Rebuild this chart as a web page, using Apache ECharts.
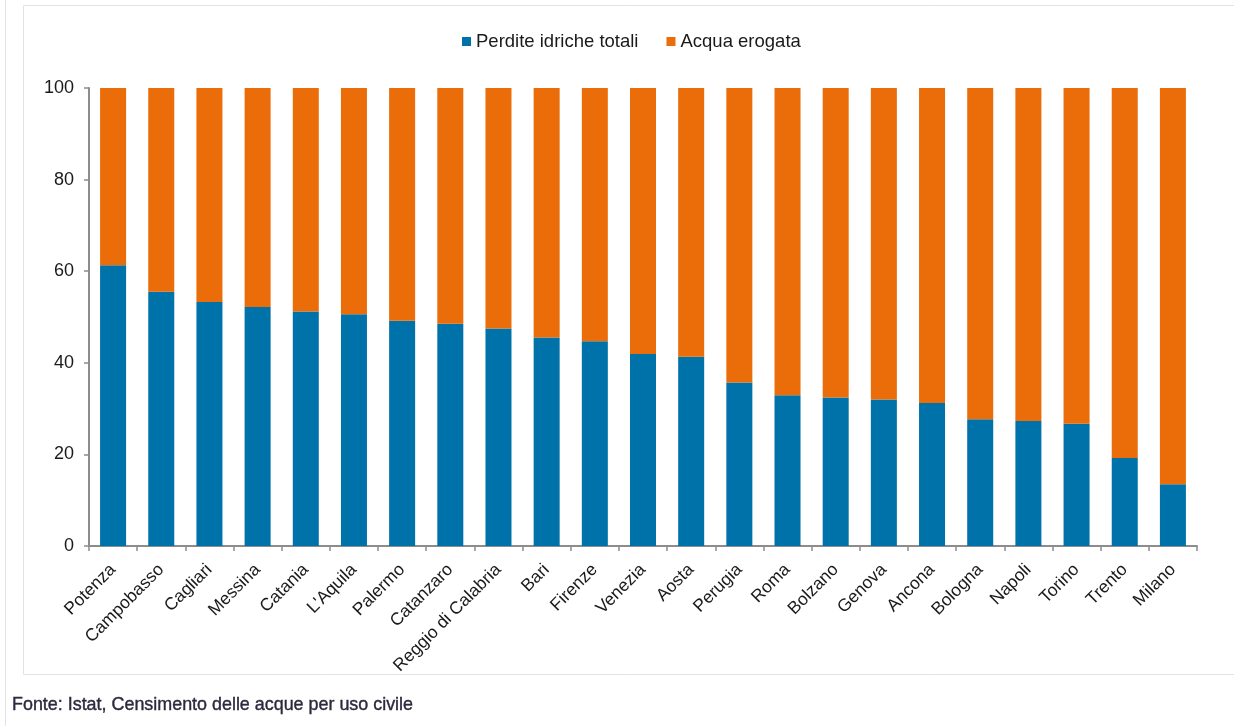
<!DOCTYPE html>
<html><head><meta charset="utf-8">
<script src="https://cdn.jsdelivr.net/npm/echarts@6/dist/echarts.min.js"></script>
<style>html,body{margin:0;padding:0;background:#fff}#c{width:1234px;height:726px}</style>
</head><body><div id="c"></div>
<script>
const categories = ["Potenza","Campobasso","Cagliari","Messina","Catania","L'Aquila","Palermo","Catanzaro","Reggio di Calabria","Bari","Firenze","Venezia","Aosta","Perugia","Roma","Bolzano","Genova","Ancona","Bologna","Napoli","Torino","Trento","Milano"];
const perdite = [61.3,55.5,53.3,52.2,51.2,50.6,49.2,48.5,47.5,45.5,44.7,41.9,41.3,35.7,32.9,32.4,32.0,31.2,27.7,27.3,26.7,19.2,13.5];
const erogata = perdite.map(v => +(100 - v).toFixed(1));
const seriesNames = ["Perdite idriche totali","Acqua erogata"];
const sourceText = "Fonte: Istat, Censimento delle acque per uso civile";

const FF = '"Liberation Sans", Arial, Helvetica, sans-serif';
// fit the condensed source note to its width in the reference
const mc = document.createElement('canvas').getContext('2d');
mc.font = '19px ' + FF;
const srcScale = 401 / mc.measureText(sourceText).width;

const chart = echarts.init(document.getElementById('c'), null, {renderer:'canvas'});
chart.setOption({
  animation:false,
  backgroundColor:'#fff',
  textStyle:{fontFamily:FF},
  legend:{
    top:27, left:457, itemWidth:9, itemHeight:9, itemGap:28,
    icon:'rect',
    textStyle:{fontSize:18.5, color:'#1a1a1a', fontFamily:FF},
    data:seriesNames
  },
  grid:{left:89, right:37, top:88, bottom:180, containLabel:false},
  xAxis:{
    type:'category', data:categories,
    axisLine:{lineStyle:{color:'#8c8c8c', width:2}},
    axisTick:{show:true, length:5, lineStyle:{color:'#8c8c8c', width:1.5}},
    axisLabel:{rotate:45, fontSize:17.5, color:'#1a1a1a', margin:21, interval:0, fontFamily:FF}
  },
  yAxis:{
    type:'value', min:0, max:100, interval:20,
    axisLine:{show:true, lineStyle:{color:'#8c8c8c', width:2}},
    axisTick:{show:true, inside:false, length:5, lineStyle:{color:'#8c8c8c', width:1.5}},
    splitLine:{show:false},
    axisLabel:{fontSize:18, color:'#1a1a1a', margin:15, fontFamily:FF}
  },
  series:[
    {name:seriesNames[0], type:'bar', stack:'t', data:perdite, barWidth:'54%',
     itemStyle:{color:'#0072AA'}},
    {name:seriesNames[1], type:'bar', stack:'t', data:erogata, barWidth:'54%',
     itemStyle:{color:'#EA6D0A'}}
  ],
  graphic:[
    {type:'line', shape:{x1:5.5,y1:0,x2:5.5,y2:726}, style:{stroke:'#e3e3e3', lineWidth:1}},
    {type:'rect', shape:{x:23.5,y:5.5,width:1250,height:669}, style:{fill:'none', stroke:'#e3e3e3', lineWidth:1}},
    {type:'text', x:12, y:695, scaleX:srcScale, style:{text:sourceText, font:'19px ' + FF, fill:'#2a2a3c', stroke:'#2a2a3c', lineWidth:0.4}}
  ]
});
</script></body></html>
